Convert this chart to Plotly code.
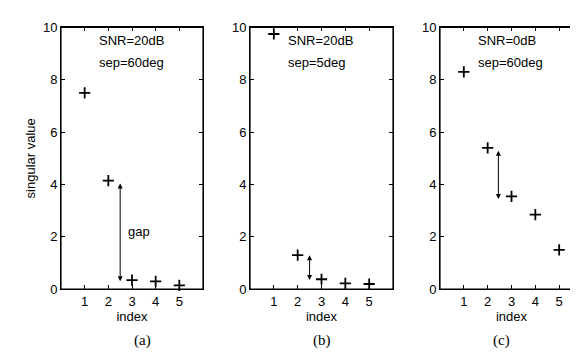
import plotly.graph_objects as go

# ---- data ----
index = [1, 2, 3, 4, 5]
sv_a = [7.5, 4.15, 0.35, 0.3, 0.15]
sv_b = [9.75, 1.3, 0.38, 0.22, 0.2]
sv_c = [8.3, 5.4, 3.55, 2.85, 1.5]
series = [sv_a, sv_b, sv_c]

labels_snr = ["SNR=20dB", "SNR=20dB", "SNR=0dB"]
labels_sep = ["sep=60deg", "sep=5deg", "sep=60deg"]
captions = ["(a)", "(b)", "(c)"]

arrow_x = [2.5, 2.5, 2.45]
arrow_top = [4.1, 1.35, 5.35]
arrow_bot = [0.3, 0.35, 3.45]

y_ticks = [0, 2, 4, 6, 8, 10]
x_ticks = [1, 2, 3, 4, 5]
x_range = [0, 6]
y_range = [0, 10]

W, H = 578, 364
x_dom_px = [(53, 195), (242, 385), (432, 575)]
y_top_px, y_bot_px = 13, 286

fig = go.Figure()
font = "Liberation Sans"
serif = "Liberation Serif"
black = "#000000"

layout_axes = {}
for i, vals in enumerate(series):
    n = "" if i == 0 else str(i + 1)
    xa, ya = "x" + n, "y" + n
    fig.add_trace(go.Scatter(
        x=index, y=vals, mode="markers", xaxis=xa, yaxis=ya,
        marker=dict(symbol="cross-thin", size=8, color="black",
                    line=dict(color="black", width=1.8)),
        showlegend=False, cliponaxis=False))
    x0, x1 = x_dom_px[i]
    dom_x = [x0 / W, x1 / W]
    dom_y = [1 - y_bot_px / H, 1 - y_top_px / H]
    layout_axes["xaxis" + n] = dict(
        domain=dom_x, range=x_range, tickvals=x_ticks, anchor=ya,
        showline=True, linecolor=black, linewidth=1, mirror="ticks",
        ticks="inside", ticklen=4, tickwidth=1, tickcolor=black,
        showgrid=False, zeroline=False,
        tickfont=dict(family=font, size=13, color="black"),
        title=dict(text="index", font=dict(family=font, size=13, color="black"), standoff=2))
    layout_axes["yaxis" + n] = dict(
        domain=dom_y, range=y_range, tickvals=y_ticks,
        anchor=xa,
        showline=True, linecolor=black, linewidth=1, mirror="ticks",
        ticks="inside", ticklen=4, tickwidth=1, tickcolor=black,
        showgrid=False, zeroline=False,
        tickfont=dict(family=font, size=13, color="black"),
        title=dict(text="singular value" if i == 0 else "",
                   font=dict(family=font, size=13, color="black"), standoff=4))

    # frame as a paper-referenced rectangle over the subplot domain
    fig.add_shape(type="rect", xref="paper", yref="paper",
                  x0=dom_x[0], x1=dom_x[1], y0=dom_y[0], y1=dom_y[1],
                  line=dict(color=black, width=1.2), fillcolor="rgba(0,0,0,0)",
                  layer="above")

    # text labels
    fig.add_annotation(x=1.5, y=9.5, xref=xa, yref=ya, text=labels_snr[i], showarrow=False,
                       xanchor="left", font=dict(family=font, size=13, color="black"))
    fig.add_annotation(x=1.5, y=8.65, xref=xa, yref=ya, text=labels_sep[i], showarrow=False,
                       xanchor="left", font=dict(family=font, size=13, color="black"))
    # double arrow
    fig.add_annotation(x=arrow_x[i], y=arrow_bot[i], ax=arrow_x[i], ay=arrow_top[i],
                       xref=xa, yref=ya, axref=xa, ayref=ya, text="", showarrow=True,
                       arrowhead=2, startarrowhead=2, arrowside="end+start",
                       arrowsize=1, arrowwidth=1, arrowcolor="black")
    # caption
    fig.add_annotation(x=(x0 + x1) / 2 / W, y=1 - 350 / H, xref="paper", yref="paper",
                       text=captions[i], showarrow=False,
                       font=dict(family=serif, size=15, color="black"))

fig.add_annotation(x=2.75, y=2.2, xref="x", yref="y", text="gap", showarrow=False,
                   xanchor="left", font=dict(family=font, size=13, color="black"))

fig.update_layout(width=W, height=H, margin=dict(l=0, r=0, t=0, b=0),
                  paper_bgcolor="white", plot_bgcolor="white", **layout_axes)

fig.write_html("out.html")
